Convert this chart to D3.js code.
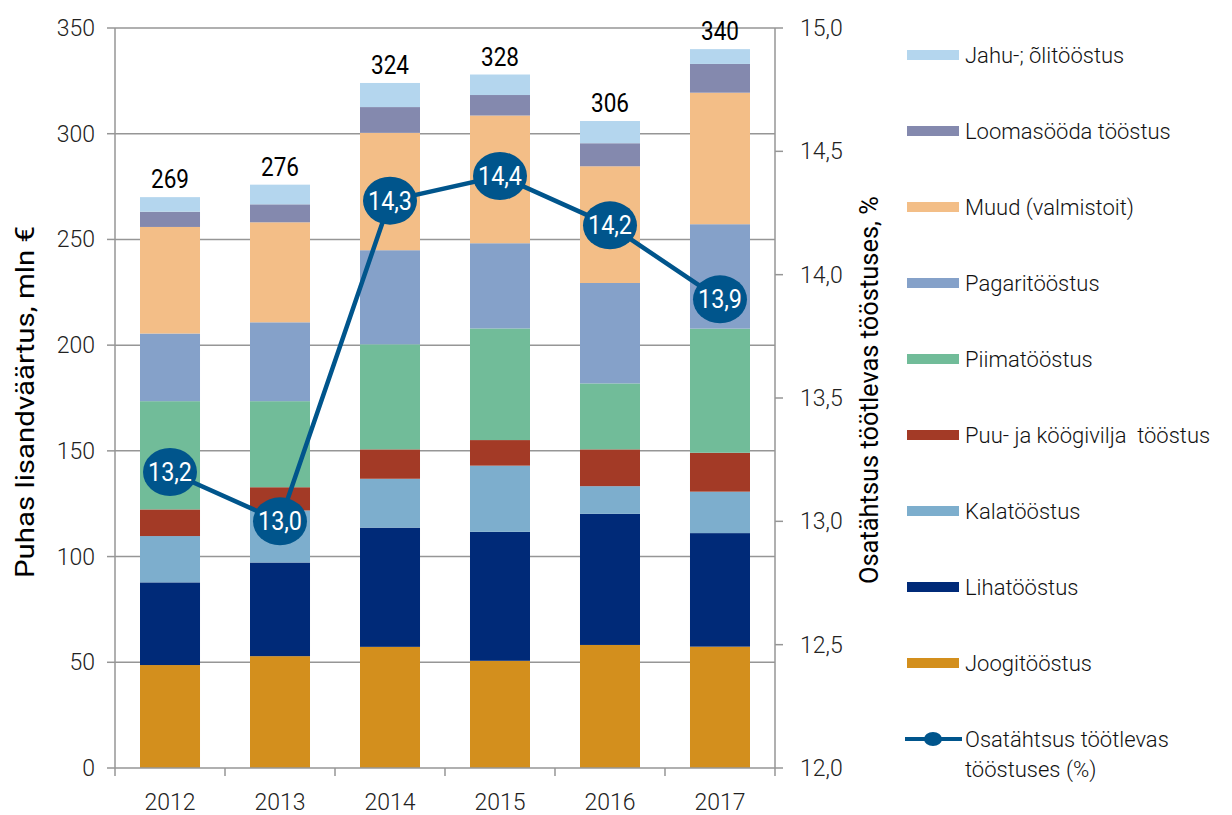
<!DOCTYPE html>
<html>
<head>
<meta charset="utf-8">
<script src="https://cdn.jsdelivr.net/npm/d3@7"></script>
<style>
  body { margin: 0; background: #fff; }
  svg text { font-family: Roboto, "Noto Sans", sans-serif; }
</style>
</head>
<body>
<div class="canvas"></div>
<script>
const years = ['2012', '2013', '2014', '2015', '2016', '2017'];

// stacked from the bottom up
const joogi = [48.7, 52.9, 57.3, 50.7, 58.2, 57.4];
const liha = [39.1, 44.3, 56.4, 61.0, 62.0, 53.7];
const kala = [21.9, 24.6, 23.1, 31.3, 13.1, 19.6];
const puu = [12.6, 11.0, 13.9, 12.1, 17.4, 18.4];
const piima = [51.2, 40.7, 49.7, 52.8, 31.2, 58.7];
const pagari = [32.0, 37.3, 44.5, 40.3, 47.5, 49.4];
const muud = [50.4, 47.3, 55.5, 60.4, 55.2, 62.2];
const loomasooda = [7.2, 8.5, 12.2, 9.7, 10.9, 13.6];
const jahu = [6.9, 9.3, 11.4, 9.7, 10.5, 7.0];

const totals = [269, 276, 324, 328, 306, 340];
const share = [13.2, 13.0, 14.3, 14.4, 14.2, 13.9];

const leftTicks = [0, 50, 100, 150, 200, 250, 300, 350];
const rightTicks = [12.0, 12.5, 13.0, 13.5, 14.0, 14.5, 15.0];

const series = [
  { name: 'Joogitööstus', values: joogi, color: '#d38f1d' },
  { name: 'Lihatööstus', values: liha, color: '#002a78' },
  { name: 'Kalatööstus', values: kala, color: '#7daecd' },
  { name: 'Puu- ja köögivilja  tööstus', values: puu, color: '#a33a26' },
  { name: 'Piimatööstus', values: piima, color: '#71bc99' },
  { name: 'Pagaritööstus', values: pagari, color: '#85a1c9' },
  { name: 'Muud (valmistoit)', values: muud, color: '#f3be87' },
  { name: 'Loomasööda tööstus', values: loomasooda, color: '#8489ae' },
  { name: 'Jahu-; õlitööstus', values: jahu, color: '#b4d6ee' }
];
const lineColor = '#00558c';

const dims = { width: 1232, height: 815 };
const plot = { left: 115, right: 775, top: 28, bottom: 768 };
const axisColor = '#969696';

const svg = d3
  .select('.canvas')
  .append('svg')
  .attr('width', dims.width)
  .attr('height', dims.height);

const x = d3
  .scaleBand()
  .domain(years)
  .range([plot.left, plot.right])
  .paddingInner(0.4545)
  .paddingOuter(0.2273);

const y = d3.scaleLinear().domain([0, 350]).range([plot.bottom, plot.top]);
const y2 = d3.scaleLinear().domain([12, 15]).range([plot.bottom, plot.top]);

const fmtComma = (d) => d3.format('.1f')(d).replace('.', ',');

// gridlines
svg
  .append('g')
  .selectAll('line')
  .data(leftTicks.slice(1))
  .enter()
  .append('line')
  .attr('x1', plot.left)
  .attr('x2', plot.right)
  .attr('y1', (d) => y(d))
  .attr('y2', (d) => y(d))
  .attr('stroke', axisColor)
  .attr('stroke-width', 1.5);

// stacked bars
const stackData = years.map((yr, i) => {
  const row = { year: yr };
  series.forEach((s) => (row[s.name] = s.values[i]));
  return row;
});
const stack = d3.stack().keys(series.map((s) => s.name));
const layers = stack(stackData);

svg
  .append('g')
  .selectAll('g')
  .data(layers)
  .enter()
  .append('g')
  .attr('fill', (d, i) => series[i].color)
  .selectAll('rect')
  .data((d) => d)
  .enter()
  .append('rect')
  .attr('x', (d) => x(d.data.year))
  .attr('width', x.bandwidth())
  .attr('y', (d) => y(d[1]))
  .attr('height', (d) => y(d[0]) - y(d[1]));

// totals above bars
svg
  .append('g')
  .selectAll('text')
  .data(years)
  .enter()
  .append('text')
  .attr('x', (d) => x(d) + x.bandwidth() / 2)
  .attr('y', (d, i) => y(d3.sum(series, (s) => s.values[i])) - 9)
  .attr('text-anchor', 'middle')
  .attr('font-size', 26)
  .attr('textLength', 38)
  .attr('lengthAdjust', 'spacingAndGlyphs')
  .attr('fill', '#000')
  .text((d, i) => totals[i]);

// left axis
const leftAxis = svg.append('g');
leftAxis
  .append('line')
  .attr('x1', plot.left)
  .attr('x2', plot.left)
  .attr('y1', plot.top)
  .attr('y2', plot.bottom)
  .attr('stroke', axisColor)
  .attr('stroke-width', 1.5);
leftAxis
  .selectAll('.tick')
  .data(leftTicks)
  .enter()
  .append('line')
  .attr('x1', plot.left - 8)
  .attr('x2', plot.left)
  .attr('y1', (d) => y(d))
  .attr('y2', (d) => y(d))
  .attr('stroke', axisColor)
  .attr('stroke-width', 1.5);
leftAxis
  .selectAll('text')
  .data(leftTicks)
  .enter()
  .append('text')
  .attr('x', 95)
  .attr('y', (d) => y(d) + 8)
  .attr('text-anchor', 'end')
  .attr('font-size', 23)
  .attr('font-weight', 300)
  .attr('fill', '#222')
  .text((d) => d);

// right axis
const rightAxis = svg.append('g');
rightAxis
  .append('line')
  .attr('x1', plot.right)
  .attr('x2', plot.right)
  .attr('y1', plot.top)
  .attr('y2', plot.bottom)
  .attr('stroke', axisColor)
  .attr('stroke-width', 1.5);
rightAxis
  .selectAll('.tick')
  .data(rightTicks)
  .enter()
  .append('line')
  .attr('x1', plot.right)
  .attr('x2', plot.right + 8)
  .attr('y1', (d) => y2(d))
  .attr('y2', (d) => y2(d))
  .attr('stroke', axisColor)
  .attr('stroke-width', 1.5);
rightAxis
  .selectAll('text')
  .data(rightTicks)
  .enter()
  .append('text')
  .attr('x', 800)
  .attr('y', (d) => y2(d) + 8)
  .attr('font-size', 23)
  .attr('font-weight', 300)
  .attr('fill', '#222')
  .text(fmtComma);

// bottom axis
const bottomAxis = svg.append('g');
bottomAxis
  .append('line')
  .attr('x1', plot.left)
  .attr('x2', plot.right)
  .attr('y1', plot.bottom)
  .attr('y2', plot.bottom)
  .attr('stroke', axisColor)
  .attr('stroke-width', 1.5);
bottomAxis
  .selectAll('.tick')
  .data(years.concat(['end']))
  .enter()
  .append('line')
  .attr('x1', (d, i) => plot.left + i * x.step())
  .attr('x2', (d, i) => plot.left + i * x.step())
  .attr('y1', plot.bottom)
  .attr('y2', plot.bottom + 8)
  .attr('stroke', axisColor)
  .attr('stroke-width', 1.5);
bottomAxis
  .selectAll('text')
  .data(years)
  .enter()
  .append('text')
  .attr('x', (d) => x(d) + x.bandwidth() / 2)
  .attr('y', 810)
  .attr('text-anchor', 'middle')
  .attr('font-size', 23)
  .attr('font-weight', 300)
  .attr('fill', '#222')
  .text((d) => d);

// axis titles
svg
  .append('text')
  .attr('transform', `translate(34, ${(plot.top + plot.bottom) / 2 + 4}) rotate(-90)`)
  .attr('text-anchor', 'middle')
  .attr('font-size', 25)
  .attr('textLength', 352)
  .attr('lengthAdjust', 'spacingAndGlyphs')
  .attr('fill', '#000')
  .text('Puhas lisandväärtus, mln €');

svg
  .append('text')
  .attr('transform', `translate(878, 390) rotate(-90)`)
  .attr('text-anchor', 'middle')
  .attr('font-size', 25)
  .attr('textLength', 388)
  .attr('lengthAdjust', 'spacingAndGlyphs')
  .attr('fill', '#000')
  .text('Osatähtsus töötlevas tööstuses, %');

// share line
const line = d3
  .line()
  .x((d, i) => x(years[i]) + x.bandwidth() / 2)
  .y((d) => y2(d));

svg
  .append('path')
  .datum(share)
  .attr('d', line)
  .attr('fill', 'none')
  .attr('stroke', lineColor)
  .attr('stroke-width', 4.5);

const markers = svg
  .append('g')
  .selectAll('g')
  .data(share)
  .enter()
  .append('g')
  .attr('transform', (d, i) => `translate(${x(years[i]) + x.bandwidth() / 2}, ${y2(d)})`);

markers
  .append('ellipse')
  .attr('rx', 27)
  .attr('ry', 24)
  .attr('fill', lineColor);

markers
  .append('text')
  .attr('y', 9)
  .attr('text-anchor', 'middle')
  .attr('font-size', 26)
  .attr('textLength', 44)
  .attr('lengthAdjust', 'spacingAndGlyphs')
  .attr('fill', '#fff')
  .text(fmtComma);

// legend
const legendItems = series.slice().reverse();
const legend = svg.append('g').attr('transform', 'translate(907, 55)');

const items = legend
  .selectAll('g')
  .data(legendItems)
  .enter()
  .append('g')
  .attr('transform', (d, i) => `translate(0, ${i * 76})`);

items
  .append('rect')
  .attr('x', 0)
  .attr('y', -5)
  .attr('width', 52)
  .attr('height', 10)
  .attr('fill', (d) => d.color);

items
  .append('text')
  .attr('x', 58)
  .attr('y', 8)
  .attr('font-size', 22)
  .attr('font-weight', 300)
  .attr('fill', '#111')
  .attr('xml:space', 'preserve')
  .style('white-space', 'pre')
  .text((d) => d.name);

const lineItem = legend
  .append('g')
  .attr('transform', `translate(0, ${legendItems.length * 76})`);
lineItem
  .append('line')
  .attr('x1', -2)
  .attr('x2', 55)
  .attr('y1', 0)
  .attr('y2', 0)
  .attr('stroke', lineColor)
  .attr('stroke-width', 4);
lineItem
  .append('ellipse')
  .attr('cx', 26)
  .attr('rx', 9)
  .attr('ry', 7)
  .attr('fill', lineColor);

const lineLabel = lineItem
  .append('text')
  .attr('x', 58)
  .attr('y', 8)
  .attr('font-size', 22)
  .attr('font-weight', 300)
  .attr('fill', '#111');
lineLabel.append('tspan').attr('x', 58).text('Osatähtsus töötlevas');
lineLabel.append('tspan').attr('x', 58).attr('dy', 30).text('tööstuses (%)');
</script>
</body>
</html>
